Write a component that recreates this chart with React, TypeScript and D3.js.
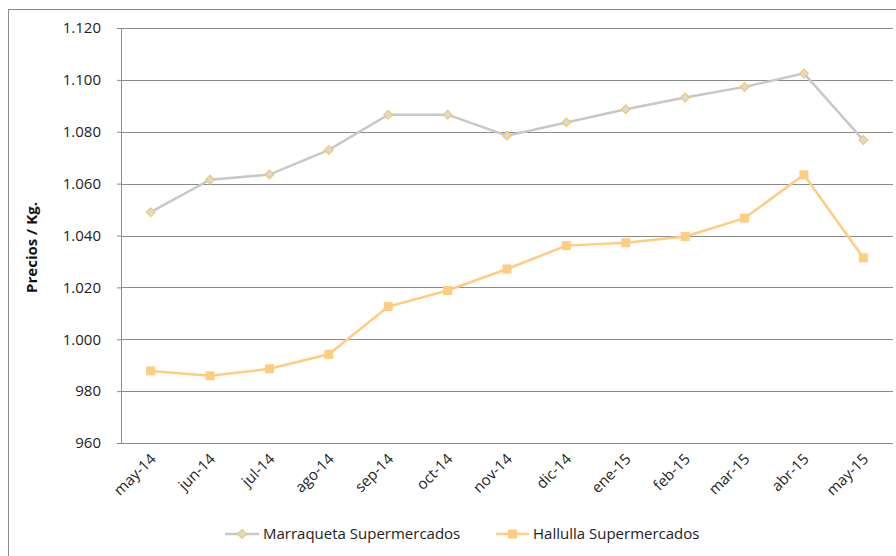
import * as d3 from 'd3';
import React, { useEffect, useRef } from 'react';

const months = ['may-14', 'jun-14', 'jul-14', 'ago-14', 'sep-14', 'oct-14', 'nov-14',
  'dic-14', 'ene-15', 'feb-15', 'mar-15', 'abr-15', 'may-15'];
const marraqueta = [1049, 1061.5, 1063.5, 1073, 1086.6, 1086.6, 1078.5, 1083.6, 1088.7, 1093.2, 1097.3, 1102.5, 1076.8];
const hallulla = [987.8, 985.9, 988.6, 994.2, 1012.6, 1018.8, 1027.1, 1036.1, 1037.2, 1039.6, 1046.7, 1063.4, 1031.4];
const yTicks = [960, 980, 1000, 1020, 1040, 1060, 1080, 1100, 1120];

const W = 896;
const H = 556;
const margin = {top: 28, right: 3, bottom: 113, left: 121};
const font = '"Open Sans", sans-serif';
const fs = 15;
const grayLine = '#c8c8c8';
const orangeLine = '#ffcc80';

const fmt = (v: number) => d3.format(',')(v).replace(/,/g, '.');

function App() {
  const ref = useRef<SVGSVGElement>(null);

  useEffect(() => {
    const svg = d3.select(ref.current);
    svg.selectAll('*').remove();
    const w = W - margin.left - margin.right;
    const h = H - margin.top - margin.bottom;
    const x = d3.scaleBand().domain(months).range([0, w]);
    const y = d3.scaleLinear().domain([960, 1120]).range([h, 0]);
    const cx = (m: string) => (x(m) as number) + x.bandwidth() / 2;

    // outer chart border
    svg.append('rect')
      .attr('x', 8.5).attr('y', 9.5)
      .attr('width', W).attr('height', H)
      .attr('fill', 'white').attr('stroke', '#8c8c8c');

    const g = svg.append('g')
      .attr('transform', `translate(${margin.left}, ${margin.top})`);

    g.selectAll('line.grid')
      .data(yTicks.slice(1))
      .enter()
      .append('line')
      .attr('class', 'grid')
      .attr('x1', 0).attr('x2', w)
      .attr('y1', d => Math.round(y(d)) + 0.5).attr('y2', d => Math.round(y(d)) + 0.5)
      .attr('stroke', '#8c8c8c');

    const yAxis = g.append('g')
      .call(d3.axisLeft(y).tickValues(yTicks).tickSize(4).tickFormat(d => fmt(d as number)));
    yAxis.select('.domain').attr('stroke', '#8c8c8c');
    yAxis.selectAll('.tick line').attr('stroke', '#8c8c8c');
    yAxis.selectAll('.tick text')
      .attr('x', -20)
      .attr('font-family', font).attr('font-size', fs).attr('fill', '#222');

    g.append('line')
      .attr('x1', 0).attr('x2', w).attr('y1', h + 0.5).attr('y2', h + 0.5)
      .attr('stroke', '#8c8c8c');

    g.selectAll('text.xl')
      .data(months)
      .enter()
      .append('text')
      .attr('class', 'xl')
      .attr('transform', m => `translate(${cx(m) + 6}, ${h + 17}) rotate(-45)`)
      .attr('text-anchor', 'end')
      .attr('font-family', font).attr('font-size', fs).attr('fill', '#222')
      .text(m => m);

    svg.append('text')
      .attr('transform', `translate(37, ${margin.top + h / 2 + 12}) rotate(-90)`)
      .attr('text-anchor', 'middle')
      .attr('font-family', font).attr('font-size', fs).attr('font-weight', 'bold').attr('fill', '#111')
      .text('Precios / Kg.');

    const line = d3.line<number>()
      .x((_, i) => cx(months[i]))
      .y(v => y(v));

    g.append('path').datum(marraqueta)
      .attr('d', line).attr('fill', 'none').attr('stroke', grayLine).attr('stroke-width', 2.5);
    g.append('path').datum(hallulla)
      .attr('d', line).attr('fill', 'none').attr('stroke', orangeLine).attr('stroke-width', 2.5);

    const diamond = d3.symbol().type(d3.symbolSquare).size(40);
    g.selectAll('path.mq')
      .data(marraqueta)
      .enter()
      .append('path')
      .attr('class', 'mq')
      .attr('d', diamond)
      .attr('transform', (v, i) => `translate(${cx(months[i])}, ${y(v)}) rotate(45)`)
      .attr('fill', '#d9d9d9').attr('stroke', '#f0c850').attr('stroke-width', 1);

    g.selectAll('rect.hl')
      .data(hallulla)
      .enter()
      .append('rect')
      .attr('class', 'hl')
      .attr('x', (_, i) => cx(months[i]) - 4.5)
      .attr('y', v => y(v) - 4.5)
      .attr('width', 9).attr('height', 9)
      .attr('fill', orangeLine);

    // legend
    const lg = svg.append('g').attr('transform', 'translate(0, 534)');
    lg.append('line').attr('x1', 225).attr('x2', 259).attr('y1', 0).attr('y2', 0)
      .attr('stroke', grayLine).attr('stroke-width', 2.5);
    lg.append('path').attr('d', diamond)
      .attr('transform', 'translate(242, 0) rotate(45)')
      .attr('fill', '#d9d9d9').attr('stroke', '#f0c850');
    lg.append('text').attr('x', 263).attr('y', 5)
      .attr('font-family', font).attr('font-size', fs).attr('fill', '#222')
      .text('Marraqueta Supermercados');
    lg.append('line').attr('x1', 496).attr('x2', 529).attr('y1', 0).attr('y2', 0)
      .attr('stroke', orangeLine).attr('stroke-width', 2.5);
    lg.append('rect').attr('x', 508).attr('y', -4.5).attr('width', 9).attr('height', 9)
      .attr('fill', orangeLine);
    lg.append('text').attr('x', 533).attr('y', 5)
      .attr('font-family', font).attr('font-size', fs).attr('fill', '#222')
      .text('Hallulla Supermercados');
  }, []);

  return (
    <svg ref={ref} width={W} height={H}
      style={{position: 'absolute', left: 0, top: 0, background: 'white'}} />
  );
}

export default App;
